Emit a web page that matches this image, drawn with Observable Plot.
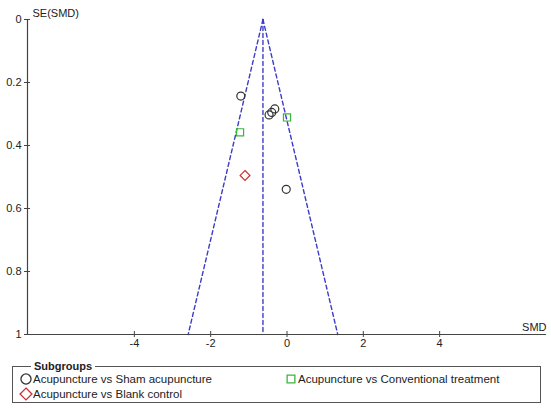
<!DOCTYPE html>
<html>
<head>
<meta charset="utf-8">
<script src="https://cdn.jsdelivr.net/npm/d3@7"></script>
<script src="https://cdn.jsdelivr.net/npm/@observablehq/plot@0.6"></script>
<style>
  body { margin: 0; background: #fff; font-family: "Liberation Sans", Arial, sans-serif; }
  #wrap { position: relative; width: 551px; height: 408px; }
  #legend { position: absolute; left: 12px; top: 366px; width: 527px; height: 35px; border: 1px solid #555; }
  #legend .title { position: absolute; left: 18px; top: -8px; background: #fff; padding: 0 3px; font-weight: bold; font-size: 11px; color: #222; line-height: 14px; }
  .item { position: absolute; font-size: 11.5px; color: #222; line-height: 14px; white-space: nowrap; }
  .item svg { position: absolute; left: -14px; top: 0px; }
</style>
</head>
<body>
<div id="wrap">
  <div id="chart"></div>
  <div id="legend"><span class="title">Subgroups</span></div>
</div>
<script>
// Data
const smdSham = [-1.21, -0.47, -0.40, -0.32, -0.02];
const seSham = [0.243, 0.303, 0.295, 0.284, 0.539];
const smdConv = [-1.23, 0.0];
const seConv = [0.358, 0.311];
const smdBlank = [-1.10];
const seBlank = [0.495];
const pooledSMD = -0.63;
const funnelSE = [0, 1];
const xTicks = [-4, -2, 0, 2, 4];
const yTicks = [0, 0.2, 0.4, 0.6, 0.8, 1];
const xDomain = [-6.8, 6.8];
const groups = [
  {name: "Acupuncture vs Sham acupuncture", symbol: "circle", color: "#333333"},
  {name: "Acupuncture vs Conventional treatment", symbol: "square", color: "#3cb43c"},
  {name: "Acupuncture vs Blank control", symbol: "diamond2", color: "#c83232"}
];

const pts = (xs, ys, g) => xs.map((x, i) => ({smd: x, se: ys[i], g}));
const sham = pts(smdSham, seSham, 0);
const conv = pts(smdConv, seConv, 1);
const blank = pts(smdBlank, seBlank, 2);

const leftLine = funnelSE.map(s => ({smd: pooledSMD - 1.96 * s, se: s}));
const rightLine = funnelSE.map(s => ({smd: pooledSMD + 1.96 * s, se: s}));
const midLine = funnelSE.map(s => ({smd: pooledSMD, se: s}));

const blue = "#3c3cc8";
const axisColor = "#444";
const dash = {stroke: blue, strokeWidth: 1.4, strokeDasharray: "4,3"};

const chart = Plot.plot({
  width: 551,
  height: 352,
  marginLeft: 27,
  marginRight: 5,
  marginTop: 19,
  marginBottom: 18,
  style: {fontFamily: "'Liberation Sans', Arial, sans-serif", fontSize: "11px", color: "#222", background: "#fff"},
  x: {domain: xDomain},
  y: {domain: [0, 1], reverse: true},
  marks: [
    Plot.line(leftLine, {x: "smd", y: "se", ...dash}),
    Plot.line(rightLine, {x: "smd", y: "se", ...dash}),
    Plot.line(midLine, {x: "smd", y: "se", ...dash}),
    Plot.ruleX([xDomain[0]], {stroke: axisColor, strokeWidth: 1.2}),
    Plot.ruleY([1], {stroke: axisColor, strokeWidth: 1.2}),
    Plot.axisY({ticks: yTicks, tickSize: 6, dx: 3, tickPadding: 3, stroke: axisColor, label: null, tickFormat: d => `${d}`}),
    Plot.axisX({ticks: xTicks, tickSize: 6, dy: -3, tickPadding: 2, stroke: axisColor, label: null, tickFormat: d => `${d}`}),
    Plot.text(["SE(SMD)"], {frameAnchor: "top-left", dx: 5, dy: -6, textAnchor: "start", lineAnchor: "middle", fill: "#222"}),
    Plot.text(["SMD"], {frameAnchor: "bottom-right", dx: 0, dy: -7, textAnchor: "end", lineAnchor: "middle", fill: "#222"}),
    Plot.dot(sham, {x: "smd", y: "se", symbol: "circle", r: 4, stroke: groups[0].color, strokeWidth: 1.2, fill: "none"}),
    Plot.dot(conv, {x: "smd", y: "se", symbol: "square", r: 4, stroke: groups[1].color, strokeWidth: 1.2, fill: "none"}),
    Plot.dot(blank, {x: "smd", y: "se", symbol: "diamond2", r: 4.4, stroke: groups[2].color, strokeWidth: 1.2, fill: "none"})
  ]
});
document.getElementById("chart").appendChild(chart);

// Legend
const legend = document.getElementById("legend");
const itemPos = [{left: 20, top: 5}, {left: 285, top: 5}, {left: 20, top: 20}];
groups.forEach((g, i) => {
  const div = document.createElement("div");
  div.className = "item";
  div.style.left = itemPos[i].left + "px";
  div.style.top = itemPos[i].top + "px";
  div.textContent = g.name;
  const sym = d3.symbol(g.symbol === "circle" ? d3.symbolCircle : g.symbol === "square" ? d3.symbolSquare : d3.symbolDiamond2, g.symbol === "circle" ? 80 : g.symbol === "square" ? 60 : 90)();
  const svg = d3.create("svg").attr("width", 14).attr("height", 14);
  svg.append("path").attr("d", sym).attr("transform", "translate(7,7)")
    .attr("fill", "none").attr("stroke", g.color).attr("stroke-width", 1.3);
  div.appendChild(svg.node());
  legend.appendChild(div);
});
</script>
</body>
</html>
